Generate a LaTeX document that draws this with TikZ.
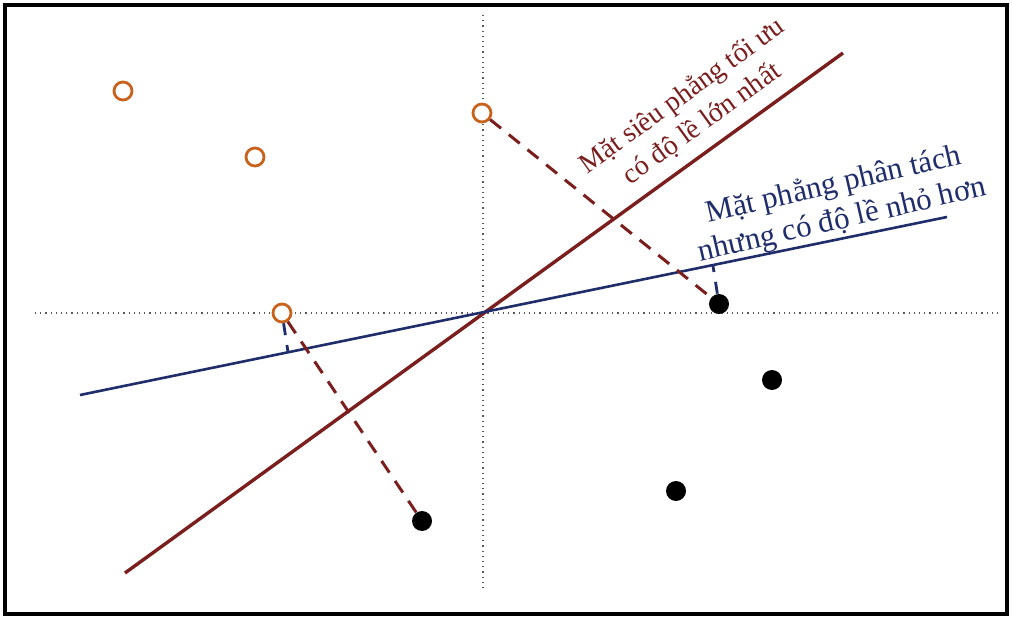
\documentclass[tikz,border=0pt]{standalone}
\usepackage{fontspec}
\setmainfont{Liberation Serif}
\begin{document}
\begin{tikzpicture}[x=0.5pt,y=-0.5pt,
  axis/.style={dotted, gray!70!black, line width=0.6pt},
  redline/.style={draw=maroon, line width=1.7pt},
  blueline/.style={draw=navyb, line width=1.3pt},
  reddash/.style={draw=maroon, line width=1.5pt, dash pattern=on 7pt off 5pt},
  bluedash/.style={draw=navyb, line width=1.4pt, dash pattern=on 6pt off 5pt},
  opendot/.style={circle, draw=orangec, line width=1.4pt, fill=white, minimum size=9pt, inner sep=0pt},
  fulldot/.style={circle, fill=black, minimum size=10pt, inner sep=0pt},
  lbl/.style={align=center, inner sep=0pt}]
\definecolor{maroon}{HTML}{7A1E1E}
\definecolor{navyb}{HTML}{1F2D6B}
\definecolor{orangec}{HTML}{C8621C}
\useasboundingbox (0,0) rectangle (1012,620);
\fill[white] (0,0) rectangle (1012,620);
\draw[line width=2pt] (5,5) rectangle (1007,614);
% axes
\coordinate (xl) at (35,313);
\coordinate (xr) at (1000,313);
\coordinate (yt) at (483,15);
\coordinate (yb) at (483,590);
\draw[axis] (xl) -- (xr);
\draw[axis] (yt) -- (yb);
% lines
\coordinate (r1) at (125,573);
\coordinate (r2) at (843,53);
\coordinate (b1) at (80,395);
\coordinate (b2) at (947,217);
\draw[redline] (r1) -- (r2);
\draw[blueline] (b1) -- (b2);
% points
\node[opendot] (o1) at (123,91) {};
\node[opendot] (o2) at (255,157) {};
\node[opendot] (o3) at (482,113) {};
\node[opendot] (o4) at (282,313) {};
\node[fulldot] (f1) at (719,304) {};
\node[fulldot] (f2) at (772,380) {};
\node[fulldot] (f3) at (676,491) {};
\node[fulldot] (f4) at (422,521) {};
% margin connectors
\coordinate (bp1) at (288,352);
\coordinate (bp2) at (713,266);
\draw[reddash] (o3) -- (f1);
\draw[reddash] (o4) -- (f4);
\draw[bluedash] (o4) -- (bp1);
\draw[bluedash] (f1) -- (bp2);
% labels
\node[lbl, font=\fontsize{14}{17}\selectfont, text=maroon, rotate=35.9] (tr) at (692,110) {Mặt siêu phẳng tối ưu\\có độ lề lớn nhất};
\node[lbl, font=\fontsize{15.5}{18}\selectfont, text=navyb, rotate=13] (tb) at (838,203) {Mặt phẳng phân tách\\nhưng có độ lề nhỏ hơn};
\end{tikzpicture}
\end{document}
